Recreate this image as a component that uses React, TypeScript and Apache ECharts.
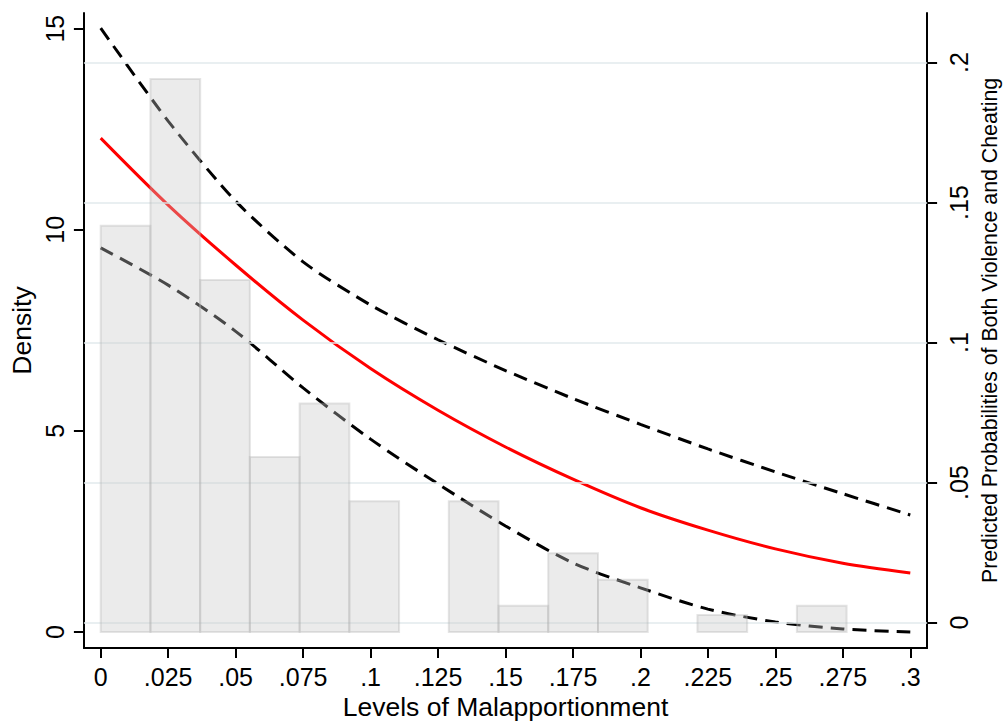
import React, { useEffect, useRef } from "react";
import * as echarts from "echarts";

// Axis ticks
const xTicks = [0, 0.025, 0.05, 0.075, 0.1, 0.125, 0.15, 0.175, 0.2, 0.225, 0.25, 0.275, 0.3];
const densityTicks = [0, 5, 10, 15];
const probTicks = [0, 0.05, 0.1, 0.15, 0.2];

// Histogram of malapportionment (left axis, density)
const binEdges = [
  0, 0.01843, 0.03685, 0.05528, 0.07371, 0.09214, 0.11056, 0.12899, 0.14742,
  0.16584, 0.18427, 0.2027, 0.22112, 0.23955, 0.25798, 0.2764,
];
const densities = [10.1, 13.75, 8.75, 4.35, 5.68, 3.25, 0, 3.25, 0.65, 1.96, 1.3, 0, 0.42, 0, 0.65];

// Predicted probabilities (right axis), evaluated at xTicks
const predicted = [0.173, 0.1491, 0.1277, 0.108, 0.0907, 0.0758, 0.0627, 0.0512, 0.041, 0.033, 0.0263, 0.0212, 0.0177];
const upperCI = [0.2123, 0.1791, 0.1505, 0.1288, 0.1134, 0.101, 0.09, 0.08, 0.0708, 0.062, 0.0538, 0.046, 0.0384];
const lowerCI = [0.1338, 0.1205, 0.104, 0.0838, 0.0655, 0.0495, 0.0345, 0.0213, 0.0124, 0.0048, 0.0002, -0.0023, -0.0034];

const FONT = "Liberation Sans, Arial, Helvetica, sans-serif";
const fmt = (v: number) => (v === 0 ? "0" : String(v).replace(/^0\./, "."));

export default function App() {
  const ref = useRef<HTMLDivElement>(null);
  useEffect(() => {
    if (!ref.current) return;
    const chart = echarts.init(ref.current, undefined, { renderer: "svg" });
    const histData = densities.map((d, i) => [binEdges[i], binEdges[i + 1], d]).filter((r) => r[2] > 0);
    const axisLineStyle = { color: "#000", width: 2 };
    const option: any = {
      animation: false,
      backgroundColor: "#fff",
      grid: { left: 83, right: 72, top: 13, bottom: 78, containLabel: false },
      xAxis: {
        type: "value",
        min: -0.00623,
        max: 0.30623,
        axisLine: { show: true, onZero: false, lineStyle: axisLineStyle },
        axisTick: { show: true, length: 10, customValues: xTicks, lineStyle: axisLineStyle },
        axisLabel: { customValues: xTicks, formatter: fmt, fontSize: 25, color: "#000", fontFamily: FONT, margin: 16 },
        splitLine: { show: false },
        name: "Levels of Malapportionment",
        nameLocation: "middle",
        nameGap: 42,
        nameTextStyle: { fontSize: 26.5, color: "#000", fontFamily: FONT },
      },
      yAxis: [
        {
          type: "value",
          position: "left",
          min: -0.398,
          max: 15.39,
          axisLine: { show: true, onZero: false, lineStyle: axisLineStyle },
          axisTick: { show: true, length: 10, customValues: densityTicks, lineStyle: axisLineStyle },
          axisLabel: { customValues: densityTicks, formatter: fmt, rotate: 90, fontSize: 25, color: "#000", fontFamily: FONT, margin: 16 },
          splitLine: { show: false },
          name: "Density",
          nameLocation: "middle",
          nameGap: 44,
          nameTextStyle: { fontSize: 26.5, color: "#000", fontFamily: FONT },
        },
        {
          type: "value",
          position: "right",
          min: -0.0091,
          max: 0.2177,
          axisLine: { show: true, onZero: false, lineStyle: axisLineStyle },
          axisTick: { show: true, length: 10, customValues: probTicks, lineStyle: axisLineStyle },
          axisLabel: { customValues: probTicks, formatter: fmt, rotate: 90, fontSize: 25, color: "#000", fontFamily: FONT, margin: 19 },
          splitLine: { show: false },
          name: "Predicted Probabilities of Both Violence and Cheating",
          nameLocation: "middle",
          nameGap: 43,
          nameTextStyle: { fontSize: 21.3, color: "#000", fontFamily: FONT },
        },
      ],
      series: [
        {
          name: "grid",
          type: "line",
          yAxisIndex: 1,
          data: [],
          silent: true,
          z: 1,
          markLine: {
            silent: true,
            symbol: "none",
            label: { show: false },
            lineStyle: { color: "#e2eaed", width: 1.5, type: "solid" },
            data: probTicks.map((v) => ({ yAxis: v })),
          },
        },
        {
          name: "Upper CI",
          type: "line",
          yAxisIndex: 1,
          data: xTicks.map((x, i) => [x, upperCI[i]]),
          symbol: "none",
          smooth: 0.25,
          z: 2,
          lineStyle: { color: "#000", width: 3, type: [14, 8] },
        },
        {
          name: "Lower CI",
          type: "line",
          yAxisIndex: 1,
          data: xTicks.map((x, i) => [x, lowerCI[i]]),
          symbol: "none",
          smooth: 0.3,
          z: 2,
          lineStyle: { color: "#000", width: 3, type: [14, 8] },
        },
        {
          name: "Predicted",
          type: "line",
          yAxisIndex: 1,
          data: xTicks.map((x, i) => [x, predicted[i]]),
          symbol: "none",
          smooth: 0.3,
          z: 3,
          lineStyle: { color: "#ff0000", width: 3 },
        },
        {
          name: "Density",
          type: "custom",
          yAxisIndex: 0,
          z: 5,
          data: histData,
          encode: { x: [0, 1], y: 2 },
          renderItem: (params: any, api: any) => {
            const p0 = api.coord([api.value(0), api.value(2)]);
            const p1 = api.coord([api.value(1), 0]);
            return {
              type: "rect",
              shape: { x: p0[0], y: p0[1], width: p1[0] - p0[0], height: p1[1] - p0[1] },
              style: { fill: "rgba(200,200,200,0.36)", stroke: "rgba(170,170,170,0.3)", lineWidth: 2 },
            };
          },
        },
      ],
    };
    chart.setOption(option);
    return () => chart.dispose();
  }, []);
  return <div ref={ref} style={{ position: "fixed", left: 0, top: 0, width: 1008, height: 726, background: "#fff" }} />;
}
